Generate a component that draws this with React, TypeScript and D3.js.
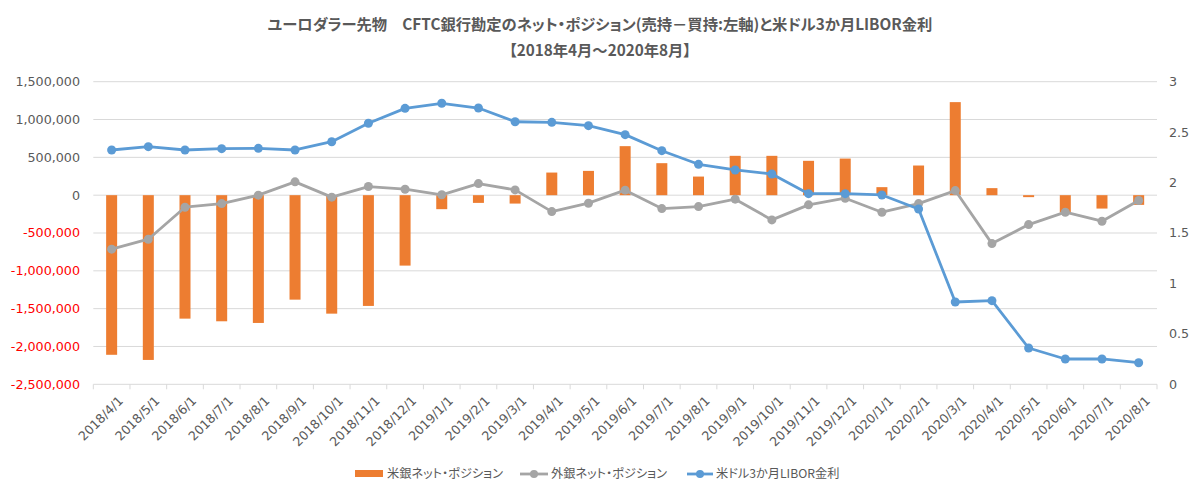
import React from "react";
import * as d3 from "d3";

const months = [
  "2018/4/1", "2018/5/1", "2018/6/1", "2018/7/1", "2018/8/1", "2018/9/1", "2018/10/1", "2018/11/1", "2018/12/1",
  "2019/1/1", "2019/2/1", "2019/3/1", "2019/4/1", "2019/5/1", "2019/6/1", "2019/7/1", "2019/8/1", "2019/9/1",
  "2019/10/1", "2019/11/1", "2019/12/1", "2020/1/1", "2020/2/1", "2020/3/1", "2020/4/1", "2020/5/1", "2020/6/1",
  "2020/7/1", "2020/8/1",
];

const usBanks = [
  -2110000, -2178000, -1632000, -1667000, -1689000, -1381000, -1566000, -1464000, -931000,
  -185000, -102000, -111000, 299000, 321000, 648000, 423000, 246000, 520000,
  520000, 454000, 484000, 106000, 392000, 1230000, 93000, -26000, -230000,
  -177000, -128000,
];

const foreignBanks = [
  -714000, -582000, -159000, -111000, 0, 176000, -26000, 114000, 79000,
  5000, 153000, 70000, -217000, -106000, 66000, -177000, -151000, -53000,
  -327000, -128000, -40000, -225000, -111000, 61000, -640000, -389000, -225000,
  -344000, -71000,
];

const libor = [
  2.323, 2.356, 2.323, 2.336, 2.339, 2.323, 2.405, 2.588, 2.736,
  2.786, 2.739, 2.603, 2.597, 2.564, 2.475, 2.316, 2.181, 2.125,
  2.085, 1.890, 1.890, 1.877, 1.738, 0.816, 0.829, 0.360, 0.251,
  0.251, 0.214,
];

const leftTicks = [1500000, 1000000, 500000, 0, -500000, -1000000, -1500000, -2000000, -2500000];
const rightTicks = [3, 2.5, 2, 1.5, 1, 0.5, 0];

const titleLine1 = "ユーロダラー先物　CFTC銀行勘定のネット・ポジション(売持－買持:左軸)と米ドル3か月LIBOR金利";
const titleLine2 = "【2018年4月～2020年8月】";
const legendNames = ["米銀ネット・ポジション", "外銀ネット・ポジション", "米ドル3か月LIBOR金利"];

const W = 1200;
const H = 497;
const plotLeft = 93.3;
const plotRight = 1157;
const plotTop = 81.7;
const plotBottom = 384.3;

const C_ORANGE = "#ED7D31";
const C_GRAY = "#A5A5A5";
const C_BLUE = "#5B9BD5";
const C_TEXT = "#595959";
const C_GRID = "#D9D9D9";

const numFont = "'DejaVu Sans', Verdana, sans-serif";
const jpFont = "'Noto Sans CJK JP', 'Noto Sans', sans-serif";

const locale = d3.formatLocale({ decimal: ".", thousands: ",", grouping: [3], currency: ["", ""], minus: "-" });
const fmtLeft = locale.format(",");

export default function App() {
  const x = d3.scaleBand<string>().domain(months).range([plotLeft, plotRight]).padding(0);
  const yL = d3.scaleLinear().domain([-2500000, 1500000]).range([plotBottom, plotTop]);
  const yR = d3.scaleLinear().domain([0, 3]).range([plotBottom, plotTop]);
  const bw = x.bandwidth();
  const barW = bw * 0.3;
  const cx = (m: string) => (x(m) as number) + bw / 2;

  const grayLine = d3.line<number>().x((_, i) => cx(months[i])).y((d) => yL(d));
  const blueLine = d3.line<number>().x((_, i) => cx(months[i])).y((d) => yR(d));

  const boundaries = months.map((m) => x(m) as number).concat([plotRight]);

  return (
    <svg width={W} height={H} style={{ position: "absolute", left: 0, top: 0, background: "#fff" }}>
      <rect x={0} y={0} width={W} height={H} fill="#fff" />
      {/* title */}
      <text x={600} y={30} textAnchor="middle" fontFamily={jpFont} fontWeight="bold" fontSize={15.3}
        fill={C_TEXT} style={{ fontFeatureSettings: '"palt"' }}>{titleLine1}</text>
      <text x={600} y={56} textAnchor="middle" fontFamily={jpFont} fontWeight="bold" fontSize={15.3}
        fill={C_TEXT} style={{ fontFeatureSettings: '"palt"' }}>{titleLine2}</text>

      {/* gridlines */}
      {leftTicks.map((t) => (
        <line key={"g" + t} x1={plotLeft} x2={plotRight} y1={yL(t)} y2={yL(t)} stroke={C_GRID} strokeWidth={1} />
      ))}
      {/* category axis ticks */}
      {boundaries.map((b, i) => (
        <line key={"tk" + i} x1={b} x2={b} y1={plotBottom} y2={plotBottom + 5} stroke={C_GRID} strokeWidth={1} />
      ))}

      {/* left axis labels */}
      {leftTicks.map((t) => (
        <text key={"l" + t} x={80} y={yL(t)} dy="0.35em" textAnchor="end" fontFamily={numFont} fontSize={12.7}
          fill={t < 0 ? "#FF0000" : C_TEXT}>{fmtLeft(t)}</text>
      ))}
      {/* right axis labels */}
      {rightTicks.map((t) => (
        <text key={"r" + t} x={1169} y={yR(t)} dy="0.35em" textAnchor="start" fontFamily={numFont} fontSize={12.7}
          fill={C_TEXT}>{String(t)}</text>
      ))}

      {/* bars */}
      {usBanks.map((v, i) => (
        <rect key={"b" + i} x={cx(months[i]) - barW / 2} width={barW}
          y={Math.min(yL(v), yL(0))} height={Math.abs(yL(v) - yL(0))} fill={C_ORANGE} />
      ))}

      {/* gray line */}
      <path d={grayLine(foreignBanks) || ""} fill="none" stroke={C_GRAY} strokeWidth={2.8} strokeLinejoin="round" />
      {foreignBanks.map((v, i) => (
        <circle key={"gc" + i} cx={cx(months[i])} cy={yL(v)} r={4.5} fill={C_GRAY} />
      ))}

      {/* blue line */}
      <path d={blueLine(libor) || ""} fill="none" stroke={C_BLUE} strokeWidth={2.8} strokeLinejoin="round" />
      {libor.map((v, i) => (
        <circle key={"bc" + i} cx={cx(months[i])} cy={yR(v)} r={4.5} fill={C_BLUE} />
      ))}

      {/* x labels */}
      {months.map((m) => (
        <text key={"x" + m} transform={`translate(${cx(m) + 9},${plotBottom + 14}) rotate(-45)`}
          textAnchor="end" dominantBaseline="central" fontFamily={numFont} fontSize={12.6} fill={C_TEXT}>{m}</text>
      ))}

      {/* legend */}
      <g>
        <rect x={355} y={470} width={28} height={7} fill={C_ORANGE} />
        <text x={387} y={474} dy="0.35em" fontFamily={jpFont} fontSize={12.2} fill={C_TEXT}
          style={{ fontFeatureSettings: '"palt"' }}>{legendNames[0]}</text>

        <line x1={520} x2={548} y1={474} y2={474} stroke={C_GRAY} strokeWidth={2.8} />
        <circle cx={534} cy={474} r={4} fill={C_GRAY} />
        <text x={551} y={474} dy="0.35em" fontFamily={jpFont} fontSize={12.2} fill={C_TEXT}
          style={{ fontFeatureSettings: '"palt"' }}>{legendNames[1]}</text>

        <line x1={687} x2={713} y1={474} y2={474} stroke={C_BLUE} strokeWidth={2.8} />
        <circle cx={700} cy={474} r={4} fill={C_BLUE} />
        <text x={716} y={474} dy="0.35em" fontFamily={jpFont} fontSize={12.2} fill={C_TEXT}
          style={{ fontFeatureSettings: '"palt"' }}>{legendNames[2]}</text>
      </g>
    </svg>
  );
}
